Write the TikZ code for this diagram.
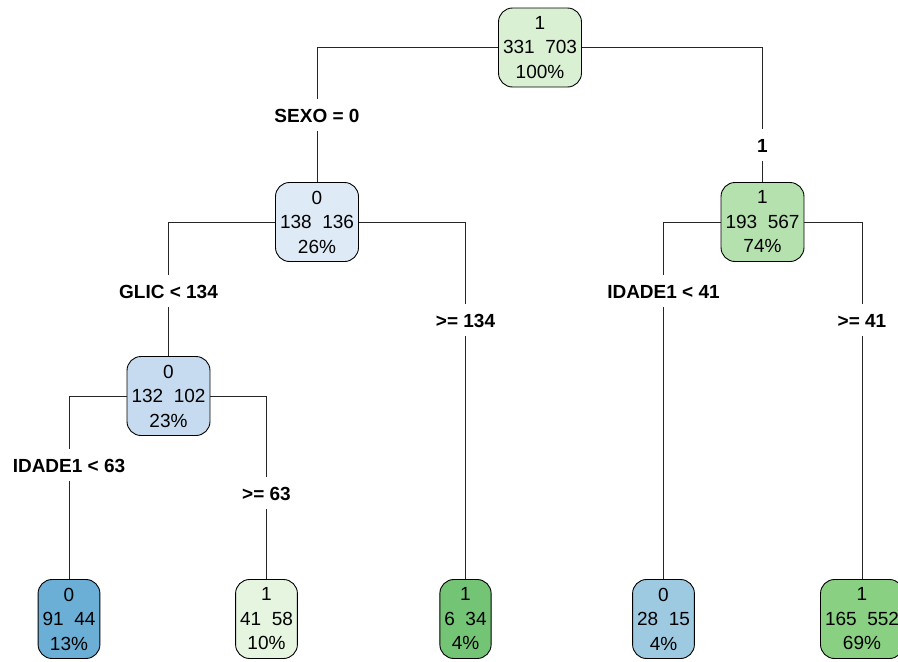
\documentclass[tikz,border=0pt]{standalone}
\usepackage{fontspec}
\setmainfont{Liberation Sans}
\usetikzlibrary{positioning}
\definecolor{gnA}{RGB}{217,240,211}
\definecolor{gnB}{RGB}{181,225,174}
\definecolor{gnC}{RGB}{229,245,224}
\definecolor{gnD}{RGB}{116,196,118}
\definecolor{gnE}{RGB}{137,208,131}
\definecolor{buA}{RGB}{222,235,247}
\definecolor{buB}{RGB}{198,219,239}
\definecolor{buC}{RGB}{107,174,214}
\definecolor{buD}{RGB}{158,202,225}

\begin{document}
\begin{tikzpicture}[x=1pt, y=-1pt,
    split/.style={rectangle, draw, rounded corners=14pt, line width=0.9pt,
                  align=center, minimum height=79pt, inner xsep=4.5pt,
                  font=\fontsize{19}{24.5}\selectfont},
    cond/.style={font=\bfseries\fontsize{19}{22}\selectfont,
                 text height=14pt, text depth=0pt, inner ysep=9pt, inner xsep=2pt},
    edge/.style={line width=0.9pt, black!85}
]
\useasboundingbox (0,0) rectangle (898,662);

% inner nodes
\node[split, fill=gnA] (n1) at (540,47.5) {1\\331\ \ 703\\100\%};
\node[split, fill=buA] (n2) at (317,222) {0\\138\ \ 136\\26\%};
\node[split, fill=gnB] (n3) at (762.5,222) {1\\193\ \ 567\\74\%};
\node[split, fill=buB] (n4) at (168.5,396) {0\\132\ \ 102\\23\%};

% leaves
\node[split, fill=buC] (l1) at (69,619) {0\\91\ \ 44\\13\%};
\node[split, fill=gnC] (l2) at (266.5,619) {1\\41\ \ 58\\10\%};
\node[split, fill=gnD] (l3) at (465.5,619) {1\\6\ \ 34\\4\%};
\node[split, fill=buD] (l4) at (663.5,619) {0\\28\ \ 15\\4\%};
\node[split, fill=gnE] (l5) at (862,619) {1\\165\ \ 552\\69\%};

% split labels
\node[cond] (c1) at (317,115) {SEXO = 0};
\node[cond] (c2) at (762.5,145) {1};
\node[cond] (c3) at (168.5,291) {GLIC < 134};
\node[cond] (c4) at (465.5,320) {>= 134};
\node[cond] (c5) at (663.5,291) {IDADE1 < 41};
\node[cond] (c6) at (862,320) {>= 41};
\node[cond] (c7) at (69,465) {IDADE1 < 63};
\node[cond] (c8) at (266.5,493) {>= 63};

\foreach \a/\l/\b in {n1.west/c1/n2, n1.east/c2/n3, n2.west/c3/n4, n2.east/c4/l3,
                      n3.west/c5/l4, n3.east/c6/l5, n4.west/c7/l1, n4.east/c8/l2}
    \draw[edge] (\a) -| (\l.north) (\l.south) -- (\b.north);
\end{tikzpicture}
\end{document}
